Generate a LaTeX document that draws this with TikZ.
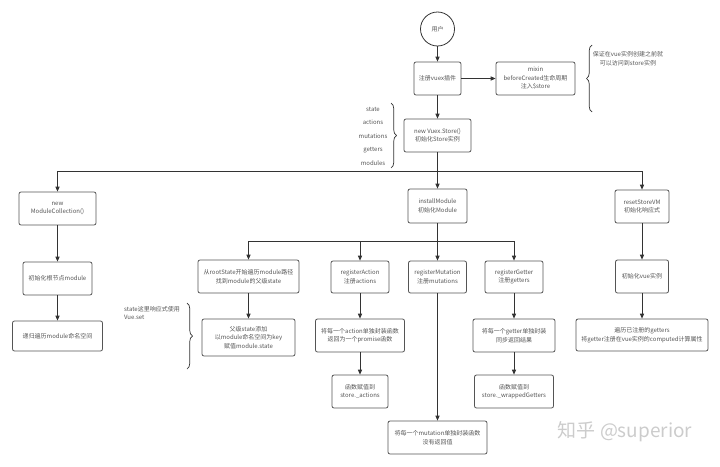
\documentclass[tikz,border=0pt]{standalone}
\usepackage{fontspec}
\setmainfont{Noto Sans CJK SC}
\usetikzlibrary{arrows.meta,decorations.pathreplacing,calc}
\definecolor{txt}{HTML}{555555}
\definecolor{boxc}{HTML}{555555}
\definecolor{linec}{HTML}{333333}
\definecolor{wm}{HTML}{CCCCCC}
\begin{document}
\begin{tikzpicture}[x=1pt,y=-1pt,
  box/.style={draw=boxc, line width=0.8pt, rounded corners=2pt, fill=white, text=txt,
    align=center, font=\fontsize{6}{8.5}\selectfont, inner sep=1pt},
  wh/.style 2 args={minimum width=#1pt, minimum height=#2pt},
  conn/.style={draw=linec, line width=0.8pt, -{Triangle[length=5pt,width=4.2pt]}},
  lbl/.style={text=txt, font=\fontsize{6}{8.5}\selectfont, inner sep=0pt},
  brc/.style={draw=linec, line width=0.7pt, decorate, decoration={brace, amplitude=5.5pt}}
]
\useasboundingbox (0,0) rectangle (720,466);

% top column
\node[draw=linec, line width=0.8pt, circle, minimum size=34pt, text=txt,
  font=\fontsize{6}{8.5}\selectfont, inner sep=0pt] (user) at (437.5,29) {用户};
\node[box, wh={47}{33}] (reg) at (437.5,78.5) {注册vuex插件};
\node[box, wh={79}{33}] (mixin) at (535.5,78.5) {mixin\\beforeCreated生命周期\\注入\$store};
\node[box, wh={67}{33}] (store) at (437.5,135.5) {new Vuex.Store()\\初始化Store实例};

% notes
\node[lbl, align=center] (note1) at (628,58.5) {保证在vue实例创建之前就\\可以访问到store实例};
\coordinate (br1a) at (592,112);
\coordinate (br1b) at (592,45);
\draw[brc] (br1a) -- (br1b);

\node[lbl] (l1) at (373,109) {state};
\node[lbl] (l2) at (373,122) {actions};
\node[lbl] (l3) at (373,136) {mutations};
\node[lbl] (l4) at (373,150) {getters};
\node[lbl] (l5) at (373,163.5) {modules};
\coordinate (br2a) at (391,103);
\coordinate (br2b) at (391,168);
\draw[brc] (br2a) -- (br2b);

\node[lbl, align=left, anchor=north west] (note2) at (124,306) {state这里响应式使用\\Vue.set};
\coordinate (br3a) at (187,303);
\coordinate (br3b) at (187,369);
\draw[brc] (br3a) -- (br3b);

% second level
\node[box, wh={77}{33}] (mc) at (57.5,208.5) {new\\ModuleCollection()};
\node[box, wh={59}{34}] (im) at (437.5,206) {installModule\\初始化Module};
\node[box, wh={54}{33}] (rs) at (642,206.5) {resetStoreVM\\初始化响应式};

% left column
\node[box, wh={69}{33}] (root) at (57.5,278.5) {初始化根节点module};
\node[box, wh={90}{30}] (rec) at (57.5,336) {递归遍历module命名空间};

% install module branch
\node[box, wh={101}{33}] (fs) at (248.5,276.5) {从rootState开始遍历module路径\\找到module的父级state};
\node[box, wh={58}{32}] (ra) at (360,277) {registerAction\\注册actions};
\node[box, wh={58}{32}] (rm) at (437.5,277) {registerMutation\\注册mutations};
\node[box, wh={58}{32}] (rg) at (514,277) {registerGetter\\注册getters};

\node[box, wh={93}{37}] (ps) at (248.5,337.5) {父级state添加\\以module命名空间为key\\赋值module.state};
\node[box, wh={89}{33}] (aw) at (360,335.5) {将每一个action单独封装函数\\返回为一个promise函数};
\node[box, wh={82}{33}] (gw) at (514,335.5) {将每一个getter单独封装\\同步返回结果};

\node[box, wh={56}{33}] (sa) at (360,391.5) {函数赋值到\\store.\_actions};
\node[box, wh={79}{33}] (sg) at (514,391.5) {函数赋值到\\store.\_wrappedGetters};
\node[box, wh={99}{33}] (mw) at (437.5,437.5) {将每一个mutation单独封装函数\\没有返回值};

% reset branch
\node[box, wh={53}{33}] (vi) at (642,276.5) {初始化vue实例};
\node[box, wh={132}{32}] (tr) at (642,335) {遍历已注册的getters\\将getter注册在vue实例的computed计算属性};

% watermark
\node[text=wm, font=\fontsize{19}{22}\selectfont, inner sep=0pt] (wmk) at (625,432) {知乎 @superior};

% connectors
\draw[conn] (user) -- (reg);
\draw[conn] (reg) -- (mixin);
\draw[conn] (reg) -- (store);

\coordinate (bus1) at (437.5,171);
\draw[conn] (store.south) -- (im.north);
\draw[conn] (store.south) -- (bus1) -| (mc.north);
\draw[conn] (bus1) -| (rs.north);

\draw[conn] (mc) -- (root);
\draw[conn] (root) -- (rec);

\coordinate (bus2) at (437.5,241);
\draw[conn] (im.south) -- (rm.north);
\draw[conn] (im.south) -- (bus2) -| (fs.north);
\draw[conn] (bus2) -| (ra.north);
\draw[conn] (bus2) -| (rg.north);

\draw[conn] (fs) -- (ps);
\draw[conn] (ra) -- (aw);
\draw[conn] (aw) -- (sa);
\draw[conn] (rm) -- (mw);
\draw[conn] (rg) -- (gw);
\draw[conn] (gw) -- (sg);

\draw[conn] (rs) -- (vi);
\draw[conn] (vi) -- (tr);
\end{tikzpicture}
\end{document}
